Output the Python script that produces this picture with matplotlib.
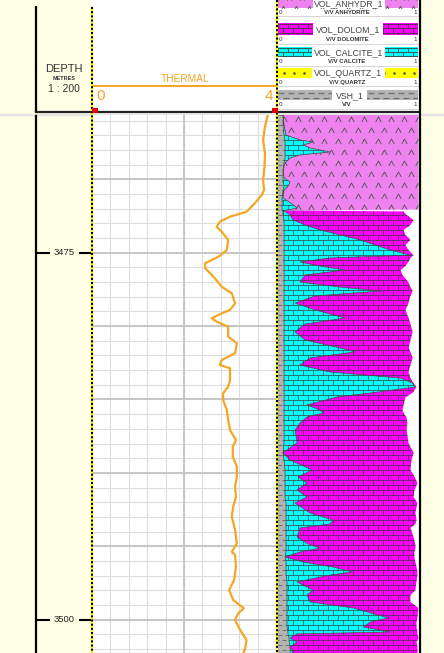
import numpy as np
import matplotlib
matplotlib.use("Agg")
import matplotlib.pyplot as plt
from matplotlib.patches import Rectangle
from matplotlib.collections import LineCollection
from matplotlib.path import Path

plt.rcParams['font.family'] = ['Liberation Sans', 'DejaVu Sans']

#-----Log data-----

depth_top = 3465.62
depth_base = 3502.27
depth_labels = [3475, 3500]

thermal_min, thermal_max = 0, 4
thermal_depth = [3465.62, 3466.42, 3467.32, 3468.21, 3469.14, 3470.05, 3470.73, 3471.07, 3471.63, 3472.21,
                 3472.55, 3472.89, 3473.23, 3473.57, 3474.13, 3474.82, 3475.27, 3475.72, 3476.06, 3476.63,
                 3477.32, 3477.77, 3478.45, 3478.90, 3479.13, 3479.47, 3479.70, 3480.04, 3480.72, 3481.17,
                 3481.85, 3482.31, 3482.65, 3482.87, 3483.67, 3484.13, 3484.58, 3485.03, 3485.72, 3486.40,
                 3487.08, 3487.76, 3488.22, 3488.90, 3489.58, 3490.26, 3490.94, 3491.62, 3492.30, 3492.98,
                 3493.89, 3494.80, 3495.37, 3495.59, 3496.39, 3497.30, 3497.98, 3498.66, 3499.22, 3499.56,
                 3500.02, 3500.70, 3501.38, 3501.95, 3502.27]
thermal = [3.82, 3.76, 3.72, 3.76, 3.75, 3.72, 3.74, 3.69, 3.54, 3.36,
           3.00, 2.78, 2.71, 2.82, 2.96, 2.93, 2.75, 2.46, 2.46, 2.64,
           2.82, 3.04, 3.11, 3.00, 2.82, 2.60, 2.71, 2.96, 2.96, 3.15,
           3.11, 2.82, 2.78, 3.00, 3.00, 2.96, 2.85, 2.85, 2.93, 2.96,
           3.00, 3.13, 3.06, 3.06, 3.15, 3.15, 3.11, 3.13, 3.07, 3.04,
           3.11, 3.15, 3.04, 3.11, 3.13, 3.09, 2.98, 3.07, 3.30, 3.18,
           3.11, 3.22, 3.36, 3.33, 3.29]

lith_depth = [3465.62, 3466.30, 3466.98, 3467.32, 3467.46, 3467.66, 3467.87, 3468.14, 3468.34, 3468.55,
              3468.89, 3469.37, 3469.91, 3470.18, 3470.46, 3470.73, 3471.27, 3471.68, 3471.96, 3472.06,
              3472.13,
              3472.19, 3472.43, 3472.77, 3473.11, 3473.45, 3473.79, 3474.13, 3474.48, 3474.82, 3475.16,
              3475.36, 3475.63, 3475.91, 3476.18, 3476.52, 3477.00, 3477.34, 3477.61, 3477.95, 3478.43,
              3478.90, 3479.45, 3479.86, 3480.40, 3480.95, 3481.49, 3481.76, 3482.17, 3482.65, 3483.13,
              3483.54, 3483.88, 3484.15, 3484.56, 3484.83, 3485.37, 3485.72, 3485.92, 3486.19, 3486.60,
              3487.08, 3487.96, 3488.64, 3489.12, 3489.80, 3490.28, 3490.69, 3491.17, 3491.64, 3492.05,
              3492.73, 3493.21, 3493.48, 3493.75, 3494.37, 3494.91, 3495.12, 3495.39, 3495.73, 3496.07,
              3496.41, 3496.75, 3496.96, 3497.43, 3497.98, 3498.32, 3498.79, 3499.20, 3499.88, 3500.16,
              3500.50, 3500.84, 3500.97, 3501.25, 3501.52, 3501.86, 3502.27]
vsh = [.036, .036, .043, .05, .05, .05, .05, .05, .05, .05,
       .043, .036, .036, .036, .043, .036, .029, .029, .029, .029,
       .029,
       .036, .036, .043, .043, .043, .043, .043, .043, .043, .043,
       .043, .043, .043, .043, .043, .043, .043, .043, .043, .043,
       .043, .043, .043, .043, .043, .043, .043, .043, .043, .043,
       .043, .043, .043, .043, .043, .043, .043, .043, .043, .043,
       .043, .043, .036, .043, .05, .05, .05, .05, .05, .057,
       .057, .057, .057, .057, .057, .057, .057, .057, .05, .057,
       .057, .057, .057, .064, .064, .064, .064, .064, .064, .064,
       .064, .071, .071, .079, .079, .086, .086]
calcite = [0, .007, .014, .107, .2, .129, .179, .321, .107, .036,
           .007, 0, .007, .05, .029, .007, .007, .071, .107, .057,
           0,
           .014, .05, .064, .15, .257, .4, .543, .65, .757, .9,
           .329, .114, .257, .436, .15, .114, .4, .686, .221, .079,
           .221, .436, .15, .079, .15, .4, .507, .186, .114, .329,
           .829, .914, .936, .614, .379, .164, .257, .279, .164, .114,
           .079, .093, 0, .043, .193, .093, .157, .086, .157, .064,
           .171, .336, .314, .1, .079, .171, .243, .1, 0, .121,
           .336, .471, .314, .071, .186, .143, .164, .471, .721, .593,
           .543, .729, .064, .007, .057, 0, .021]
dolomite = [0.0] * 21 + [
           .843, .829, .857, .75, .593, .464, .357, .214, .129, .021,
           .571, .771, .607, .393, .693, .771, .5, .229, .679, .807,
           .643, .45, .75, .836, .75, .486, .393, .729, .786, .557,
           .071, .007, .007, .3, .486, .686, .586, .571, .707, .764,
           .793, .793, .929, .864, .7, .829, .786, .836, .757, .871,
           .75, .593, .607, .786, .829, .75, .679, .814, .921, .8,
           .593, .464, .621, .85, .729, .736, .714, .464, .207, .329,
           .379, .193, .857, .914, .85, .907, .886]
anhydrite = [.964, .957, .943, .843, .75, .821, .771, .629, .843, .914,
             .95, .964, .957, .914, .929, .957, .964, .9, .864, .914,
             0] + [0.0] * 77

legend_names = ['VOL_ANHYDR_1', 'VOL_DOLOM_1', 'VOL_CALCITE_1', 'VOL_QUARTZ_1', 'VSH_1']
legend_units = ['V/V ANHYDRITE', 'V/V DOLOMITE', 'V/V CALCITE', 'V/V QUARTZ', 'V/V']

#-----Colours-----

CREAM = '#FFFFE6'
ORANGE = '#F5A623'
C_ANH = '#EE82EE'
C_DOL = '#FF00FF'
C_CAL = '#00FFFF'
C_QTZ = '#FFFF00'
C_SH = '#B4B4B4'
PAT = '#3C3C3C'

W, H = 444, 653


def frac_box(x0, y0, x1, y1):
    return [x0 / W, 1 - y1 / H, (x1 - x0) / W, (y1 - y0) / H]


def clip_to(artist, ax, clip):
    if isinstance(clip, Path):
        artist.set_clip_path(clip, ax.transData)
    else:
        artist.set_clip_path(clip)


def bricks(ax, clip, x0, x1, y0, y1, dx, dy, lw=0.5, z=3):
    segs = []
    for i, y in enumerate(np.arange(y0, y1 + dy, dy)):
        segs.append([(x0, y), (x1, y)])
        off = dx / 2 * (i % 2)
        for x in np.arange(x0 + off, x1, dx):
            segs.append([(x, y), (x, y + dy)])
    lc = LineCollection(segs, colors=PAT, linewidths=lw, zorder=z)
    ax.add_collection(lc, autolim=False)
    clip_to(lc, ax, clip)


def carets(ax, clip, x0, x1, y0, y1, dx, dy, ms=4, z=3):
    caret = Path([(-1, -0.9), (0, 0.9), (1, -0.9)], [Path.MOVETO, Path.LINETO, Path.LINETO])
    xs, ys = [], []
    for i, y in enumerate(np.arange(y0, y1 + dy, dy)):
        off = dx / 2 * (i % 2)
        for x in np.arange(x0 + off, x1 + dx, dx):
            xs.append(x)
            ys.append(y)
    ln, = ax.plot(xs, ys, ls='none', marker=caret, ms=ms, mfc='none', mec='#505050', mew=0.6, zorder=z)
    clip_to(ln, ax, clip)


def dashes(ax, clip, x0, x1, y0, y1, dx, dy, lw=0.8, z=3):
    segs = []
    for i, y in enumerate(np.arange(y0, y1 + dy, dy)):
        off = dx / 2 * (i % 2)
        for x in np.arange(x0 - dx + off, x1, dx):
            segs.append([(x, y), (x + dx * 0.6, y)])
    lc = LineCollection(segs, colors='#6E6E6E', linewidths=lw, zorder=z)
    ax.add_collection(lc, autolim=False)
    clip_to(lc, ax, clip)


fig = plt.figure(figsize=(W / 100, H / 100), dpi=100)

#-----Background panels and header (pixel coordinates)-----

bg = fig.add_axes([0, 0, 1, 1])
bg.set_xlim(0, W)
bg.set_ylim(H, 0)
bg.axis('off')
bg.add_patch(Rectangle((0, 0), 92, H, color=CREAM, lw=0))
bg.add_patch(Rectangle((421, 0), W - 421, H, color=CREAM, lw=0))

bg.text(63.5, 69.5, 'DEPTH', ha='center', va='center', fontsize=8, color='#333333')
bg.text(64, 78, 'METRES', ha='center', va='center', fontsize=4, color='#333333', fontweight='bold')
bg.text(64, 89.5, '1 : 200', ha='center', va='center', fontsize=7.5, color='#333333')

bg.plot([92, 276], [86, 86], color=ORANGE, lw=1.4)
bg.text(185, 78.5, 'THERMAL', ha='center', va='center', fontsize=7.3, color=ORANGE)
bg.text(96.5, 95.5, str(thermal_min), ha='left', va='center', fontsize=11, color=ORANGE)
bg.text(273, 95.5, str(thermal_max), ha='right', va='center', fontsize=11, color=ORANGE)

# legend bands for the mineral volume track
bands = [(-4, 7.5), (23, 35.3), (46.7, 57.3), (68.3, 77.7), (90, 100.3)]
band_cols = [C_ANH, C_DOL, C_CAL, C_QTZ, C_SH]
box_x = [(313, 385), (313, 383), (312, 385), (312, 385), (332, 367)]
label_y = [4.0, 29.6, 52.5, 73.5, 95.6]
for k, ((y0, y1), col) in enumerate(zip(bands, band_cols)):
    r = Rectangle((278, y0), 140, y1 - y0, color=col, lw=0, zorder=2)
    bg.add_patch(r)
    if k == 0:
        carets(bg, r, 276, 420, y0 + 2, y1, 13, 10, ms=3.5)
    elif k in (1, 2):
        bricks(bg, r, 278, 418, y0 + 1, y1, 10, 4.3, lw=0.6)
    elif k == 3:
        bg.scatter(np.arange(284, 418, 10), np.full(14, (y0 + y1) / 2), s=0.6, color='#404040', zorder=3)
    else:
        dashes(bg, r, 278, 418, y0 + 2.5, y1, 10, 5, lw=0.9)
    bx0, bx1 = box_x[k]
    bg.add_patch(Rectangle((bx0, y0), bx1 - bx0, y1 - y0, color='white', lw=0, zorder=4))
    bg.text((bx0 + bx1) / 2, label_y[k], legend_names[k], ha='center', va='center',
            fontsize=6.3, color='#444444', zorder=5)
    ty = y1 + 4.5
    bg.text(279, ty, '0', ha='left', va='center', fontsize=4.5, color='#333333')
    bg.text(416.5, ty, '1', ha='right', va='center', fontsize=4.5, color='#333333')
    bg.text(347, ty, legend_units[k], ha='center', va='center', fontsize=4.3,
            color='#333333', fontweight='bold')
    bg.plot([278, 418], [y1 + 8.3, y1 + 8.3], color='#D0D0D0', lw=0.6)

bg.plot([0, W], [114.5, 114.5], color='#E4E4E4', lw=1.6)
bg.plot([36, 419], [112, 112], color='#222222', lw=1.6)

#-----Depth track-----

axd = fig.add_axes(frac_box(36, 115, 92, 653))
axd.set_ylim(depth_base, depth_top)
axd.set_xlim(0, 1)
axd.axis('off')
axd.patch.set_alpha(0)
for d in depth_labels:
    axd.hlines(d, 0, 0.25, color='black', lw=1.5)
    axd.hlines(d, 0.77, 1, color='black', lw=1.5)
    axd.text(0.5, d, str(d), ha='center', va='center', fontsize=6.8, color='#222222')

#-----Thermal track-----

axt = fig.add_axes(frac_box(92, 115, 276, 653))
axt.set_xlim(thermal_min, thermal_max)
axt.set_ylim(depth_base, depth_top)
axt.set_xticks(np.linspace(thermal_min, thermal_max, 11))
axt.set_yticks(np.arange(3466, 3503, 1))
axt.grid(color='#DDDDDD', lw=0.8)
axt.tick_params(length=0, labelbottom=False, labelleft=False)
for s in axt.spines.values():
    s.set_visible(False)
axt.axvline((thermal_min + thermal_max) / 2, color='#C6C6C6', lw=1.4)
for d in np.arange(3470, 3503, 5):
    axt.axhline(d, color='#C6C6C6', lw=1.4)
axt.plot(thermal, thermal_depth, color=ORANGE, lw=1.6, solid_joinstyle='round', zorder=5)

#-----Mineral volume track-----

axl = fig.add_axes(frac_box(278, 115, 418.5, 653))
axl.set_xlim(0, 1)
axl.set_ylim(depth_base, depth_top)
axl.axis('off')

c1 = np.array(vsh)
c2 = c1 + np.array(calcite)
c3 = c2 + np.array(dolomite)
c4 = c3 + np.array(anhydrite)
dep = np.array(lith_depth)
row_h = 5 / 14.68

layers = [(np.zeros_like(c1), c1, C_SH), (c1, c2, C_CAL), (c2, c3, C_DOL), (c3, c4, C_ANH)]
for k, (left, right, col) in enumerate(layers):
    poly = axl.fill_betweenx(dep, left, right, facecolor=col, lw=0, zorder=2)
    clip = Path.make_compound_path(*poly.get_paths())
    if k == 0:
        dashes(axl, clip, 0, 0.15, depth_top, depth_base, 0.05, row_h, lw=0.7)
    elif k in (1, 2):
        bricks(axl, clip, 0, 1, depth_top, depth_base, 10 / 140, row_h, lw=0.5)
    else:
        carets(axl, clip, -0.05, 1.05, depth_top + 0.25, depth_base, 13.3 / 140, 11 / 14.68)

# dark outline along the mineral boundaries inside the fill
for edge in (c1, c2):
    axl.plot(edge, dep, color='#404040', lw=0.5, zorder=4)

#-----Track borders-----

top = fig.add_axes([0, 0, 1, 1])
top.set_xlim(0, W)
top.set_ylim(H, 0)
top.axis('off')
top.patch.set_alpha(0)
top.plot([36, 36], [7, 111], color='black', lw=1.6)
top.plot([36, 36], [116, H], color='black', lw=1.6)
top.plot([419.5, 419.5], [0, H], color='black', lw=1.6)
for x, y0 in [(92, 7), (277, 0)]:
    top.plot([x, x], [y0, H], color='#FFFF00', lw=1.5, solid_capstyle='butt')
    top.plot([x, x], [y0, H], color='black', lw=1.5, ls=(0, (1, 1)))
top.add_patch(Rectangle((92, 107.5), 5.5, 5.5, color='#E00000', lw=0, zorder=5))
top.add_patch(Rectangle((272, 107.5), 5.5, 5.5, color='#E00000', lw=0, zorder=5))

fig.savefig('out.png', dpi=100)
